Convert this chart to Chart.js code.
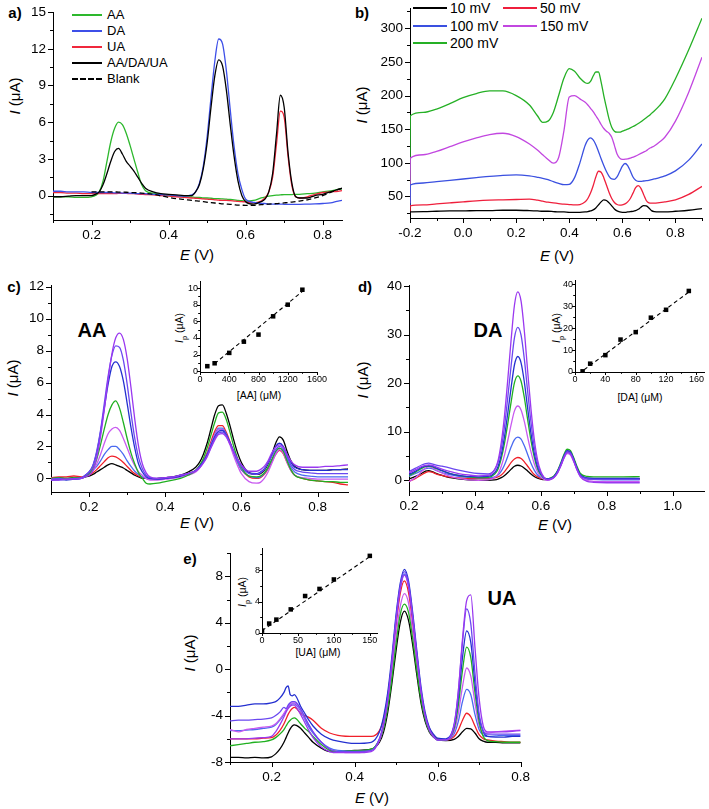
<!DOCTYPE html>
<html>
<head>
<meta charset="utf-8">
<script src="https://cdn.jsdelivr.net/npm/chart.js@4.4.1/dist/chart.umd.min.js"></script>
<style>
body { margin: 0; background: #fff; }
#fig { position: relative; width: 709px; height: 809px; overflow: hidden; font-family: "Liberation Sans", Arial, sans-serif; color: #000; }
#fig canvas { position: absolute; }
.t { position: absolute; transform: translate(-50%, -50%); white-space: nowrap; font-size: 15px; }
.r { transform: translate(-50%, -50%) rotate(-90deg); }
.lab { font-weight: bold; font-size: 15px; }
.big { font-weight: bold; font-size: 20px; }
.sm { font-size: 10.5px; }
.sm sub { font-size: 70%; }
.lg { position: absolute; height: 16px; line-height: 16px; display: flex; align-items: center; white-space: nowrap; }
.sw { display: inline-block; height: 0; border-top-width: 2px; border-top-style: solid; }
</style>
</head>
<body>
<div id="fig">
  <div class="t lab" style="left:15px;top:12px">a)</div>
  <div class="t r" style="left:14px;top:96px"><i>I</i> (μA)</div>
  <div class="t" style="left:197px;top:254px"><i>E</i> (V)</div>

  <div class="t lab" style="left:362px;top:12px">b)</div>
  <div class="t r" style="left:361px;top:105px"><i>I</i> (μA)</div>
  <div class="t" style="left:557px;top:255px"><i>E</i> (V)</div>

  <div class="t lab" style="left:14px;top:286px">c)</div>
  <div class="t r" style="left:12px;top:378px"><i>I</i> (μA)</div>
  <div class="t" style="left:197px;top:522px"><i>E</i> (V)</div>
  <div class="t big" style="left:92px;top:330px">AA</div>

  <div class="t lab" style="left:365px;top:286px">d)</div>
  <div class="t r" style="left:362px;top:380px"><i>I</i> (μA)</div>
  <div class="t" style="left:555px;top:524px"><i>E</i> (V)</div>
  <div class="t big" style="left:488px;top:330px">DA</div>

  <div class="t lab" style="left:190px;top:558px">e)</div>
  <div class="t r" style="left:189px;top:653px"><i>I</i> (μA)</div>
  <div class="t" style="left:372px;top:797px"><i>E</i> (V)</div>
  <div class="t big" style="left:502px;top:598px">UA</div>

  <div class="t r sm" style="left:181px;top:328px"><i>I</i><sub>p</sub> (μA)</div>
  <div class="t sm" style="left:259px;top:395px">[AA] (μM)</div>
  <div class="t r sm" style="left:558px;top:328px"><i>I</i><sub>p</sub> (μA)</div>
  <div class="t sm" style="left:640px;top:397px">[DA] (μM)</div>
  <div class="t r sm" style="left:244px;top:592px"><i>I</i><sub>p</sub> (μA)</div>
  <div class="t sm" style="left:318px;top:652px">[UA] (μM)</div>

  <div class="lg" style="left:72px;top:7px;font-size:13px"><span class="sw" style="width:30px;margin-right:5px;border-top-color:#2db82d"></span>AA</div>
  <div class="lg" style="left:72px;top:23px;font-size:13px"><span class="sw" style="width:30px;margin-right:5px;border-top-color:#3d4fe8"></span>DA</div>
  <div class="lg" style="left:72px;top:39px;font-size:13px"><span class="sw" style="width:30px;margin-right:5px;border-top-color:#f0283c"></span>UA</div>
  <div class="lg" style="left:72px;top:55px;font-size:13px"><span class="sw" style="width:30px;margin-right:5px;border-top-color:#000"></span>AA/DA/UA</div>
  <div class="lg" style="left:72px;top:71px;font-size:13px"><span class="sw" style="width:30px;margin-right:5px;border-top-style:dashed;border-top-color:#000"></span>Blank</div>

  <div class="lg" style="left:413px;top:0px;font-size:14px"><span class="sw" style="width:34px;margin-right:3px;border-top-color:#000"></span>10 mV</div>
  <div class="lg" style="left:503px;top:0px;font-size:14px"><span class="sw" style="width:34px;margin-right:3px;border-top-color:#ef1f3c"></span>50 mV</div>
  <div class="lg" style="left:413px;top:18px;font-size:14px"><span class="sw" style="width:34px;margin-right:3px;border-top-color:#3a50e0"></span>100 mV</div>
  <div class="lg" style="left:503px;top:18px;font-size:14px"><span class="sw" style="width:34px;margin-right:3px;border-top-color:#c247e0"></span>150 mV</div>
  <div class="lg" style="left:413px;top:35px;font-size:14px"><span class="sw" style="width:34px;margin-right:3px;border-top-color:#25b025"></span>200 mV</div>
</div>
<script>
// ---- panel a: AA, DA, UA, mixture and blank ----
const E_A = [0.10,0.12,0.14,0.16,0.18,0.20,0.21,0.22,0.23,0.24,0.25,0.26,0.27,0.28,0.29,0.30,0.31,0.32,0.33,0.34,0.36,0.38,0.40,0.42,0.44,0.46,0.47,0.48,0.49,0.50,0.51,0.52,0.53,0.54,0.55,0.56,0.57,0.58,0.59,0.60,0.62,0.64,0.65,0.66,0.67,0.68,0.69,0.70,0.71,0.72,0.73,0.74,0.76,0.78,0.80,0.82,0.84,0.85];
const a_AA = [-0.1,-0.1,-0.1,-0.15,-0.15,-0.1,0.0,0.3,1.2,2.8,4.4,5.5,6.0,5.8,5.1,4.1,3.0,1.9,0.9,0.4,0.2,0.1,0.0,-0.05,-0.1,-0.12,-0.15,-0.15,-0.2,-0.2,-0.22,-0.25,-0.25,-0.28,-0.3,-0.32,-0.35,-0.4,-0.42,-0.45,-0.4,-0.2,-0.12,-0.05,0.0,0.03,0.05,0.08,0.08,0.08,0.1,0.1,0.15,0.2,0.3,0.38,0.5,0.55];
const a_DA = [0.35,0.35,0.3,0.3,0.3,0.25,0.25,0.25,0.25,0.25,0.25,0.22,0.22,0.2,0.2,0.2,0.18,0.15,0.15,0.15,0.1,0.08,0.05,0.0,-0.05,0.05,0.3,1.0,2.4,4.8,8.0,11.0,12.8,12.4,10.2,7.0,4.0,1.8,0.5,-0.3,-0.55,-0.65,-0.65,-0.7,-0.7,-0.7,-0.7,-0.72,-0.72,-0.72,-0.72,-0.72,-0.7,-0.68,-0.65,-0.6,-0.45,-0.4];
const a_UA = [0.25,0.25,0.2,0.2,0.15,0.15,0.15,0.15,0.15,0.15,0.15,0.15,0.18,0.18,0.18,0.15,0.15,0.12,0.1,0.08,0.05,0.0,-0.05,-0.1,-0.15,-0.2,-0.22,-0.25,-0.28,-0.3,-0.32,-0.35,-0.38,-0.4,-0.4,-0.42,-0.45,-0.48,-0.5,-0.52,-0.6,-0.45,-0.2,0.3,1.5,4.2,6.9,6.4,3.2,0.8,-0.1,-0.2,-0.1,0.1,0.25,0.3,0.35,0.4];
const a_MIX = [-0.1,-0.1,-0.05,0.0,0.0,0.0,0.1,0.3,0.9,1.8,2.8,3.6,3.85,3.4,2.8,2.4,2.0,1.5,1.0,0.6,0.3,0.15,0.1,0.05,0.0,0.0,0.3,0.9,2.2,4.3,7.2,9.8,11.1,10.6,8.6,5.8,3.2,1.2,0.0,-0.5,-0.7,-0.5,-0.3,0.3,1.8,5.0,8.2,7.2,3.5,1.0,-0.1,-0.2,-0.2,0.0,0.1,0.3,0.5,0.6];
const a_BLANK = [null,null,null,null,null,0.3,0.3,0.3,0.3,0.3,0.3,0.3,0.28,0.28,0.27,0.25,0.24,0.22,0.2,0.17,0.1,-0.02,-0.15,-0.25,-0.32,-0.4,-0.43,-0.46,-0.5,-0.55,-0.58,-0.61,-0.64,-0.68,-0.7,-0.72,-0.75,-0.78,-0.79,-0.8,-0.8,-0.75,-0.72,-0.7,-0.68,-0.66,-0.63,-0.6,-0.57,-0.53,-0.5,-0.45,-0.35,-0.2,0.0,0.25,0.5,0.6];

// ---- panel b: scan rates ----
const E_B = [-0.2,-0.199,-0.15,-0.1,-0.05,0,0.05,0.1,0.15,0.2,0.25,0.28,0.3,0.32,0.34,0.36,0.38,0.40,0.42,0.44,0.46,0.47,0.48,0.49,0.50,0.51,0.52,0.53,0.54,0.55,0.56,0.57,0.58,0.59,0.60,0.61,0.62,0.63,0.64,0.65,0.66,0.67,0.68,0.69,0.70,0.71,0.72,0.74,0.76,0.8,0.85,0.9];
const b_10 = [22,27,27.5,28,28.5,28.5,29,29,29.5,29.5,29,28.5,28,28,27.5,27,27,26.5,26.5,26.5,27,27.5,28.5,30,33,37.5,42,44.8,44,40.5,36,31.5,28.5,27,26.5,26.5,27,27.5,28,29,31,34,36.5,36,33,29,27.5,27,27,28,29.5,32];
const b_50 = [25,36,37.5,39,40.5,42,43.5,44.5,45,45.5,46,44.5,43,41.5,40.5,39.5,38.5,38,37.5,38,42,47,55,66,79,87.5,86,78,67,56,47,41,38,37,37.5,39,42,47,55,63,66,62,53,44,40.5,40,40,41,42,45,53,65];
const b_100 = [35,67,70,72,74,76,78,80,81.5,82,80.5,78.5,77,75,72,69.5,67.5,68,78,100,126,134,137,134,127,117,106,96,87,80,76,75.5,79,87,95,99,96,88,79,74,72.5,72.5,73,73.5,74,75,76,78,80.5,88,104,128];
const b_150 = [40,107,112,117,124,131,137,142,144,139,128,119,112,105,99.5,108,148,198,200,195,190,186,181,176,170,164,157,151,147,144,138,126,113,107,105,105.5,106,107,108.5,110,112,114,116,118,121,123,125,131,138,162,205,257];
const b_200 = [45,170,175,180,188,197,203,207,207,200,186,170,160,162,175,200,226,240,236,226,219,218,221,229,235,235,220,200,182,165,153,147,145.5,145.5,147,148.5,150,152,154,156,158.5,161,164,167,170,173.5,177,185,195,225,268,315];

// ---- panel c: increasing AA ----
const E_C = [0.10,0.12,0.14,0.16,0.18,0.19,0.20,0.21,0.22,0.23,0.24,0.25,0.26,0.27,0.28,0.29,0.30,0.31,0.32,0.33,0.34,0.35,0.36,0.38,0.40,0.42,0.44,0.46,0.48,0.49,0.50,0.51,0.52,0.53,0.54,0.55,0.56,0.57,0.58,0.59,0.60,0.62,0.64,0.65,0.66,0.67,0.68,0.69,0.70,0.71,0.72,0.73,0.74,0.76,0.78,0.80,0.82,0.84,0.86,0.88];
const c_1 = [0.05,0.05,0.0,0.05,0.05,0.1,0.15,0.25,0.4,0.55,0.7,0.85,0.92,0.85,0.75,0.65,0.5,0.35,0.2,0.1,0.0,0.0,-0.05,0.0,0.05,0.1,0.2,0.4,0.7,1.0,1.5,2.2,3.1,4.0,4.55,4.6,4.1,3.3,2.4,1.6,1.0,0.35,0.25,0.3,0.5,0.9,1.5,2.2,2.6,2.4,1.7,1.1,0.75,0.55,0.5,0.5,0.5,0.55,0.55,0.6];
const c_2 = [0.05,0.1,0.1,0.15,0.1,0.15,0.2,0.35,0.55,0.8,1.05,1.3,1.4,1.35,1.2,1.0,0.75,0.5,0.3,0.15,0.05,0.0,-0.05,-0.05,0.0,0.05,0.15,0.3,0.5,0.75,1.1,1.6,2.3,2.95,3.3,3.3,2.9,2.3,1.6,1.0,0.55,0.1,0.0,0.05,0.25,0.6,1.05,1.5,1.75,1.55,1.0,0.5,0.2,0.0,-0.1,-0.15,-0.2,-0.25,-0.35,-0.4];
const c_3 = [-0.1,-0.1,-0.05,-0.05,0.0,0.1,0.3,0.5,0.75,1.1,1.5,1.8,2.0,2.0,1.8,1.5,1.1,0.75,0.45,0.25,0.1,0.0,-0.05,-0.05,0.0,0.05,0.1,0.25,0.45,0.7,1.05,1.5,2.15,2.75,3.15,3.15,2.8,2.2,1.55,1.0,0.55,0.15,0.05,0.1,0.3,0.65,1.15,1.65,1.9,1.75,1.2,0.7,0.4,0.2,0.15,0.1,0.1,0.1,0.1,0.1];
const c_4 = [0.0,0.0,-0.05,0.0,0.05,0.15,0.3,0.5,0.9,1.5,2.2,2.8,3.1,3.2,3.0,2.5,1.9,1.3,0.8,0.4,0.2,0.0,-0.1,-0.1,-0.05,0.0,0.1,0.2,0.4,0.65,1.0,1.5,2.1,2.7,3.05,3.05,2.7,2.1,1.4,0.8,0.3,-0.2,-0.3,-0.25,0.0,0.4,0.95,1.5,1.8,1.6,1.0,0.5,0.2,0.05,0.0,-0.05,-0.05,-0.05,-0.05,-0.05];
const c_5 = [0.0,0.05,0.0,0.05,0.05,0.1,0.3,0.6,1.2,2.1,3.1,4.0,4.6,4.85,4.4,3.5,2.5,1.6,0.9,0.35,0.0,-0.3,-0.35,-0.3,-0.2,-0.1,0.0,0.2,0.5,0.8,1.25,1.9,2.7,3.5,4.1,4.15,3.7,2.9,2.0,1.25,0.7,0.15,0.1,0.15,0.35,0.7,1.2,1.7,1.9,1.7,1.1,0.55,0.2,0.0,-0.1,-0.15,-0.2,-0.2,-0.25,-0.25];
const c_6 = [-0.1,-0.05,-0.1,-0.05,0.0,0.2,0.4,0.8,1.6,2.9,4.4,5.9,7.0,7.3,7.0,6.1,4.7,3.2,1.9,0.9,0.4,0.1,0.0,-0.05,0.0,0.05,0.15,0.3,0.5,0.75,1.05,1.5,2.05,2.6,2.95,3.0,2.75,2.25,1.7,1.2,0.8,0.35,0.3,0.4,0.6,1.0,1.5,2.0,2.2,2.0,1.5,1.0,0.7,0.55,0.5,0.5,0.5,0.55,0.55,0.55];
const c_7 = [-0.05,0.0,-0.05,0.0,0.05,0.2,0.4,0.8,1.7,3.0,4.7,6.4,7.7,8.3,8.2,7.4,5.9,4.1,2.5,1.3,0.6,0.2,0.05,0.0,0.05,0.1,0.2,0.3,0.5,0.7,1.0,1.4,1.95,2.5,2.85,2.9,2.7,2.2,1.65,1.15,0.75,0.3,0.25,0.35,0.55,0.95,1.4,1.8,2.0,1.85,1.35,0.85,0.55,0.4,0.35,0.3,0.3,0.3,0.3,0.3];
const c_8 = [-0.1,-0.1,-0.05,-0.05,0.0,0.1,0.2,0.5,1.3,2.6,4.3,6.2,7.8,8.8,9.1,8.7,7.5,5.7,3.7,2.0,0.9,0.35,0.1,0.0,0.05,0.1,0.2,0.3,0.45,0.65,0.95,1.35,1.9,2.4,2.75,2.8,2.6,2.15,1.65,1.2,0.85,0.45,0.45,0.55,0.75,1.1,1.6,1.95,2.1,1.95,1.5,1.1,0.85,0.7,0.7,0.7,0.75,0.75,0.8,0.85];

// ---- panel d: increasing DA ----
const E_D = [0.20,0.22,0.24,0.25,0.26,0.27,0.28,0.30,0.32,0.35,0.38,0.41,0.44,0.46,0.47,0.48,0.49,0.50,0.51,0.52,0.53,0.54,0.55,0.56,0.57,0.58,0.59,0.60,0.61,0.62,0.63,0.64,0.65,0.66,0.67,0.68,0.69,0.70,0.71,0.72,0.74,0.76,0.80,0.85,0.90];
const d_1 = [0.3,0.8,1.5,1.9,2.0,1.8,1.5,1.0,0.6,0.3,0.1,0.0,0.0,0.1,0.25,0.55,1.0,1.6,2.3,2.9,3.1,2.95,2.5,1.9,1.3,0.8,0.45,0.25,0.15,0.15,0.3,0.7,1.6,3.1,4.9,6.0,5.8,4.3,2.5,1.1,0.4,0.3,0.3,0.3,0.3];
const d_2 = [-0.2,0.4,1.2,1.6,1.8,1.7,1.4,1.0,0.7,0.5,0.4,0.35,0.35,0.5,0.7,1.1,1.8,2.7,3.7,4.4,4.7,4.5,3.8,2.9,2.0,1.2,0.7,0.4,0.3,0.3,0.4,0.8,1.7,3.1,4.8,5.8,5.6,4.1,2.4,1.1,0.35,0.25,0.2,0.2,0.2];
const d_3 = [0.8,1.4,2.1,2.4,2.5,2.4,2.1,1.6,1.2,0.8,0.6,0.5,0.5,0.7,1.1,1.9,3.2,5.0,6.9,8.4,8.9,8.5,7.1,5.3,3.5,2.1,1.1,0.6,0.3,0.2,0.35,0.8,1.7,3.0,4.7,5.7,5.5,4.0,2.3,1.0,0.3,0.2,0.1,0.1,0.1];
const d_4 = [-0.3,0.6,1.9,2.5,2.8,2.6,2.2,1.5,0.9,0.4,0.1,0.0,0.1,0.6,1.3,2.9,5.3,8.3,11.5,14.3,15.3,14.5,12.1,8.9,5.9,3.4,1.7,0.7,0.2,0.0,0.2,0.6,1.5,2.9,4.5,5.5,5.2,3.8,2.1,0.8,0.0,-0.2,-0.3,-0.3,-0.3];
const d_5 = [1.0,1.7,2.5,2.8,2.9,2.8,2.5,2.0,1.5,1.0,0.7,0.55,0.6,1.3,2.3,4.5,7.7,11.8,16.2,20.1,21.5,20.4,17.0,12.5,8.2,4.8,2.4,1.1,0.5,0.3,0.5,0.9,1.9,3.5,5.3,6.4,6.1,4.6,2.8,1.4,0.8,0.7,0.7,0.7,0.75];
const d_6 = [1.2,1.9,2.7,2.9,3.0,2.9,2.6,2.0,1.5,1.0,0.8,0.7,0.8,1.6,2.8,5.3,9.1,14.0,19.2,23.8,25.5,24.2,20.2,14.8,9.7,5.6,2.8,1.3,0.5,0.3,0.4,0.8,1.8,3.3,5.0,6.1,5.8,4.3,2.5,1.1,0.5,0.4,0.4,0.4,0.4];
const d_7 = [1.8,2.5,3.2,3.45,3.55,3.4,3.2,2.9,2.6,2.1,1.7,1.4,1.3,2.2,3.7,6.6,11.2,17.3,23.7,29.4,31.5,29.9,24.9,18.3,12.0,6.9,3.5,1.5,0.5,0.2,0.3,0.7,1.6,3.1,4.8,5.9,5.6,4.1,2.3,1.0,0.3,0.2,0.2,0.2,0.2];
const d_8 = [1.5,2.2,2.9,3.1,3.2,3.1,2.8,2.3,1.9,1.4,1.1,0.9,1.0,2.2,4.0,7.8,13.5,21.0,29.1,36.1,38.8,36.9,30.7,22.5,14.7,8.5,4.2,1.8,0.6,0.1,0.2,0.6,1.4,2.9,4.6,5.7,5.4,3.9,2.1,0.7,-0.2,-0.4,-0.5,-0.5,-0.5];

// ---- panel e: increasing UA ----
const E_E = [0.10,0.12,0.14,0.16,0.18,0.20,0.21,0.22,0.23,0.235,0.24,0.245,0.25,0.255,0.26,0.27,0.28,0.29,0.30,0.32,0.34,0.36,0.40,0.44,0.46,0.47,0.48,0.49,0.50,0.51,0.52,0.53,0.54,0.55,0.56,0.57,0.58,0.59,0.60,0.62,0.64,0.65,0.66,0.67,0.68,0.69,0.70,0.71,0.72,0.74,0.76,0.78,0.80];
const e_1 = [-7.6,-7.6,-7.65,-7.6,-7.65,-7.55,-7.3,-6.9,-6.3,-5.9,-5.5,-5.15,-4.9,-4.8,-4.85,-5.1,-5.5,-5.9,-6.3,-6.8,-7.1,-7.1,-7.0,-6.9,-6.3,-5.4,-3.7,-1.2,1.6,4.0,5.0,4.2,2.1,-0.5,-2.9,-4.5,-5.4,-5.85,-6.1,-6.15,-6.05,-5.8,-5.4,-5.1,-5.15,-5.5,-6.0,-6.2,-6.3,-6.3,-6.35,-6.35,-6.35];
const e_2 = [-6.0,-6.0,-6.0,-6.0,-5.95,-5.9,-5.7,-5.3,-4.7,-4.3,-3.9,-3.6,-3.4,-3.3,-3.4,-3.8,-4.0,-4.15,-4.4,-5.1,-5.5,-5.7,-5.8,-5.8,-5.3,-4.3,-2.3,0.6,3.8,6.5,7.6,6.6,4.0,0.8,-2.1,-4.0,-5.1,-5.7,-6.0,-6.1,-5.8,-5.25,-4.4,-3.8,-4.1,-4.9,-5.65,-6.0,-6.1,-6.2,-6.25,-6.3,-6.3];
const e_3 = [-5.3,-5.3,-5.25,-5.2,-5.1,-5.0,-4.8,-4.4,-3.9,-3.6,-3.3,-3.1,-3.0,-3.0,-3.1,-3.6,-4.3,-5.0,-5.5,-6.3,-6.8,-7.0,-7.05,-6.95,-6.0,-4.8,-2.6,0.6,4.3,7.0,8.2,7.2,4.5,1.2,-1.9,-4.0,-5.2,-5.8,-6.1,-6.1,-5.55,-4.5,-2.8,-1.75,-2.2,-3.9,-5.2,-5.7,-5.8,-5.75,-5.7,-5.7,-5.7];
const e_4 = [-5.2,-5.4,-5.2,-5.1,-5.0,-4.9,-4.7,-4.3,-3.8,-3.5,-3.2,-3.0,-2.9,-2.9,-3.0,-3.5,-4.2,-4.8,-5.4,-6.3,-6.9,-7.1,-7.2,-7.0,-6.15,-5.0,-3.1,-0.4,2.9,5.4,6.5,5.7,3.2,0.4,-2.3,-4.2,-5.3,-5.8,-6.1,-6.1,-5.35,-3.8,-1.5,0.1,-0.6,-2.9,-4.85,-5.5,-5.5,-5.4,-5.35,-5.3,-5.25];
const e_5 = [-6.6,-6.5,-6.4,-6.3,-6.25,-6.1,-5.9,-5.6,-5.2,-4.9,-4.6,-4.4,-4.25,-4.2,-4.3,-4.7,-5.1,-5.4,-5.8,-6.5,-7.0,-7.1,-7.05,-6.9,-6.1,-5.1,-3.3,-0.8,2.2,4.7,5.6,4.9,2.6,-0.1,-2.6,-4.3,-5.3,-5.8,-6.05,-6.1,-5.1,-3.1,-0.1,1.9,1.0,-2.0,-4.5,-5.8,-6.15,-6.25,-6.3,-6.3,-6.3];
const e_6 = [-3.2,-3.2,-3.1,-3.0,-3.0,-2.9,-2.8,-2.5,-2.0,-1.6,-1.45,-2.2,-2.3,-2.2,-2.4,-3.2,-3.8,-4.4,-4.9,-5.6,-6.0,-6.2,-6.4,-6.3,-5.4,-4.1,-2.0,1.1,4.7,7.4,8.6,7.6,4.9,1.6,-1.5,-3.7,-5.0,-5.6,-5.95,-6.0,-4.9,-2.5,1.0,3.3,2.3,-1.2,-4.1,-5.4,-5.8,-5.85,-5.85,-5.8,-5.8];
const e_7 = [-4.45,-4.4,-4.4,-4.35,-4.3,-4.2,-4.0,-3.7,-3.3,-3.4,-3.1,-2.9,-2.8,-2.8,-2.9,-3.4,-4.1,-4.8,-5.4,-6.3,-6.9,-7.1,-7.1,-7.0,-6.0,-4.6,-2.5,0.7,4.4,7.2,8.4,7.4,4.6,1.3,-1.8,-4.0,-5.2,-5.8,-6.1,-6.1,-4.7,-1.9,2.3,5.2,3.9,-0.3,-3.8,-5.3,-5.6,-5.6,-5.6,-5.6,-5.6];
const e_8 = [-6.0,-6.0,-6.0,-5.95,-5.9,-5.8,-5.4,-4.8,-4.1,-3.7,-3.4,-3.2,-3.1,-3.1,-3.3,-3.9,-4.6,-5.3,-5.9,-6.7,-7.1,-7.2,-7.2,-7.1,-6.1,-4.8,-2.7,0.5,4.1,6.9,8.1,7.1,4.4,1.1,-1.9,-4.0,-5.2,-5.8,-6.1,-6.1,-4.8,-1.9,2.6,5.9,6.4,1.9,-2.5,-4.9,-5.4,-5.4,-5.4,-5.35,-5.3];

// ---- calibration insets ----
const aaConc = [100,200,400,600,800,1000,1200,1400];
const aaIp = [0.6,0.95,2.2,3.55,4.4,6.6,8.0,9.8];
const aaFitX = [200,1400], aaFitY = [0.9,9.6];
const daConc = [10,20,40,60,80,100,120,150];
const daIp = [0.3,3.8,7.7,14.8,18.2,24.8,28.4,37.0];
const daFitX = [12,150], daFitY = [1.0,36.5];
const uaConc = [0,10,20,40,60,80,100,150];
const uaIp = [0.3,1.2,1.7,3.0,4.7,5.6,6.8,9.8];
const uaFitX = [0,150], uaFitY = [0.3,9.7];

const FONT = '"Liberation Sans", Arial, sans-serif';
const SERIES_COLORS = ['#000000', '#f0202a', '#4a6af0', '#c85af0', '#20b020', '#2430d0', '#6a48f0', '#9a38f0'];

function onStep(v, step) {
    const q = v / step;
    return Math.abs(q - Math.round(q)) < 1e-6;
}
function fmt(v, dec) {
    return (Math.round(v * 1e6) / 1e6).toFixed(dec);
}
function tickList(min, max, step) {
    const out = [];
    for (let k = Math.ceil(min / step - 1e-9); k <= Math.floor(max / step + 1e-9); k++) {
        out.push({ value: Math.round(k * step * 1e6) / 1e6 });
    }
    return out;
}
function series(xs, ys) {
    return xs.map((x, i) => ({ x: x, y: ys[i] }));
}
function curve(xs, ys, color, dash) {
    return {
        data: series(xs, ys),
        borderColor: color,
        borderWidth: 1.3,
        borderDash: dash || [],
        pointRadius: 0,
        fill: false,
        cubicInterpolationMode: 'monotone'
    };
}
function points(xs, ys) {
    return {
        data: series(xs, ys),
        showLine: false,
        pointStyle: 'rect',
        pointRadius: 3.2,
        pointBackgroundColor: '#000',
        pointBorderColor: '#000',
        pointBorderWidth: 0
    };
}
function fitLine(xs, ys) {
    return { data: series(xs, ys), borderColor: '#000', borderWidth: 1.1, borderDash: [4, 3], pointRadius: 0, fill: false };
}

// minor/major tick marks drawn from the scales' own ticks
const tickMarks = {
    id: 'tickMarks',
    afterDraw(chart, args, o) {
        const ctx = chart.ctx;
        const sx = chart.scales.x, sy = chart.scales.y;
        ctx.save();
        ctx.strokeStyle = '#000';
        ctx.lineWidth = 1;
        ctx.beginPath();
        sx.ticks.forEach(t => {
            const p = Math.round(sx.getPixelForValue(t.value)) + 0.5;
            const len = onStep(t.value, o.xMajor) ? o.len : o.len * 0.6;
            ctx.moveTo(p, sx.top);
            ctx.lineTo(p, sx.top + len);
        });
        sy.ticks.forEach(t => {
            const p = Math.round(sy.getPixelForValue(t.value)) + 0.5;
            const len = onStep(t.value, o.yMajor) ? o.len : o.len * 0.6;
            ctx.moveTo(sy.right, p);
            ctx.lineTo(sy.right - len, p);
        });
        ctx.stroke();
        ctx.restore();
    }
};

// box = [left, top, right, bottom] of the plot area on the page
function plot(box, datasets, xa, ya, small) {
    const yw = small ? 26 : 40, xh = small ? 16 : 24, pt = 10, pr = 16;
    const w = box[2] - box[0] + yw + pr, h = box[3] - box[1] + pt + xh;
    const cv = document.createElement('canvas');
    cv.width = w;
    cv.height = h;
    cv.style.left = (box[0] - yw) + 'px';
    cv.style.top = (box[1] - pt) + 'px';
    cv.style.width = w + 'px';
    cv.style.height = h + 'px';
    document.getElementById('fig').appendChild(cv);

    const axis = (a, isX) => ({
        type: 'linear',
        min: a.min,
        max: a.max,
        afterBuildTicks: s => { s.ticks = tickList(a.min, a.max, a.minor); },
        afterFit: s => { if (isX) s.height = xh; else s.width = yw; },
        grid: { display: false, drawTicks: false },
        border: { display: true, color: '#000', width: 1 },
        ticks: {
            autoSkip: false,
            maxRotation: 0,
            padding: small ? 2 : 7,
            color: '#000',
            font: { family: FONT, size: small ? 9 : 13.5 },
            callback: v => onStep(v, a.major) ? fmt(v, a.dec) : ''
        }
    });

    return new Chart(cv, {
        type: 'line',
        data: { datasets: datasets },
        options: {
            responsive: false,
            animation: false,
            layout: { padding: { left: 0, top: pt, right: pr, bottom: 0 } },
            plugins: {
                legend: { display: false },
                tooltip: { enabled: false },
                tickMarks: { xMajor: xa.major, yMajor: ya.major, len: small ? 3 : 5 }
            },
            scales: { x: axis(xa, true), y: axis(ya, false) }
        },
        plugins: [tickMarks]
    });
}

function family(E, list) {
    // list is ordered low to high concentration; highest drawn on top
    return list.map((ys, i) => curve(E, ys, SERIES_COLORS[i])).reverse();
}

// a)
plot([53, 7, 342, 220], [
    curve(E_A, a_BLANK, '#000', [5, 3]),
    curve(E_A, a_MIX, '#000'),
    curve(E_A, a_DA, '#3d4fe8'),
    curve(E_A, a_UA, '#f0283c'),
    curve(E_A, a_AA, '#2db82d')
], { min: 0.1, max: 0.85, major: 0.2, minor: 0.1, dec: 1 },
   { min: -2, max: 15, major: 3, minor: 1.5, dec: 0 });

// b)
plot([410, 3, 702, 218], [
    curve(E_B, b_10, '#000'),
    curve(E_B, b_50, '#ef1f3c'),
    curve(E_B, b_100, '#3a50e0'),
    curve(E_B, b_150, '#c247e0'),
    curve(E_B, b_200, '#25b025')
], { min: -0.2, max: 0.9, major: 0.2, minor: 0.1, dec: 1 },
   { min: 18, max: 330, major: 50, minor: 25, dec: 0 });

// c)
plot([51, 280, 348, 492], family(E_C, [c_1, c_2, c_3, c_4, c_5, c_6, c_7, c_8]),
   { min: 0.1, max: 0.88, major: 0.2, minor: 0.1, dec: 1 },
   { min: -0.85, max: 12.1, major: 2, minor: 1, dec: 0 });

// d)
plot([409, 280, 704, 491], family(E_D, [d_1, d_2, d_3, d_4, d_5, d_6, d_7, d_8]),
   { min: 0.2, max: 1.095, major: 0.2, minor: 0.1, dec: 1 },
   { min: -2.2, max: 40.2, major: 10, minor: 5, dec: 0 });

// e)
plot([230, 548, 521, 762], family(E_E, [e_1, e_2, e_3, e_4, e_5, e_6, e_7, e_8]),
   { min: 0.1, max: 0.8, major: 0.2, minor: 0.1, dec: 1 },
   { min: -8, max: 10, major: 4, minor: 2, dec: 0 });

// insets
plot([200, 281, 317, 372], [points(aaConc, aaIp), fitLine(aaFitX, aaFitY)],
   { min: 0, max: 1600, major: 400, minor: 200, dec: 0 },
   { min: -0.1, max: 10.85, major: 2, minor: 1, dec: 0 }, true);
plot([575, 280, 704, 372], [points(daConc, daIp), fitLine(daFitX, daFitY)],
   { min: 0, max: 170, major: 40, minor: 20, dec: 0 },
   { min: 0, max: 42, major: 10, minor: 5, dec: 0 }, true);
plot([262, 548, 377, 633], [points(uaConc, uaIp), fitLine(uaFitX, uaFitY)],
   { min: 0, max: 160, major: 50, minor: 25, dec: 0 },
   { min: 0, max: 10.8, major: 4, minor: 2, dec: 0 }, true);
</script>
</body>
</html>
